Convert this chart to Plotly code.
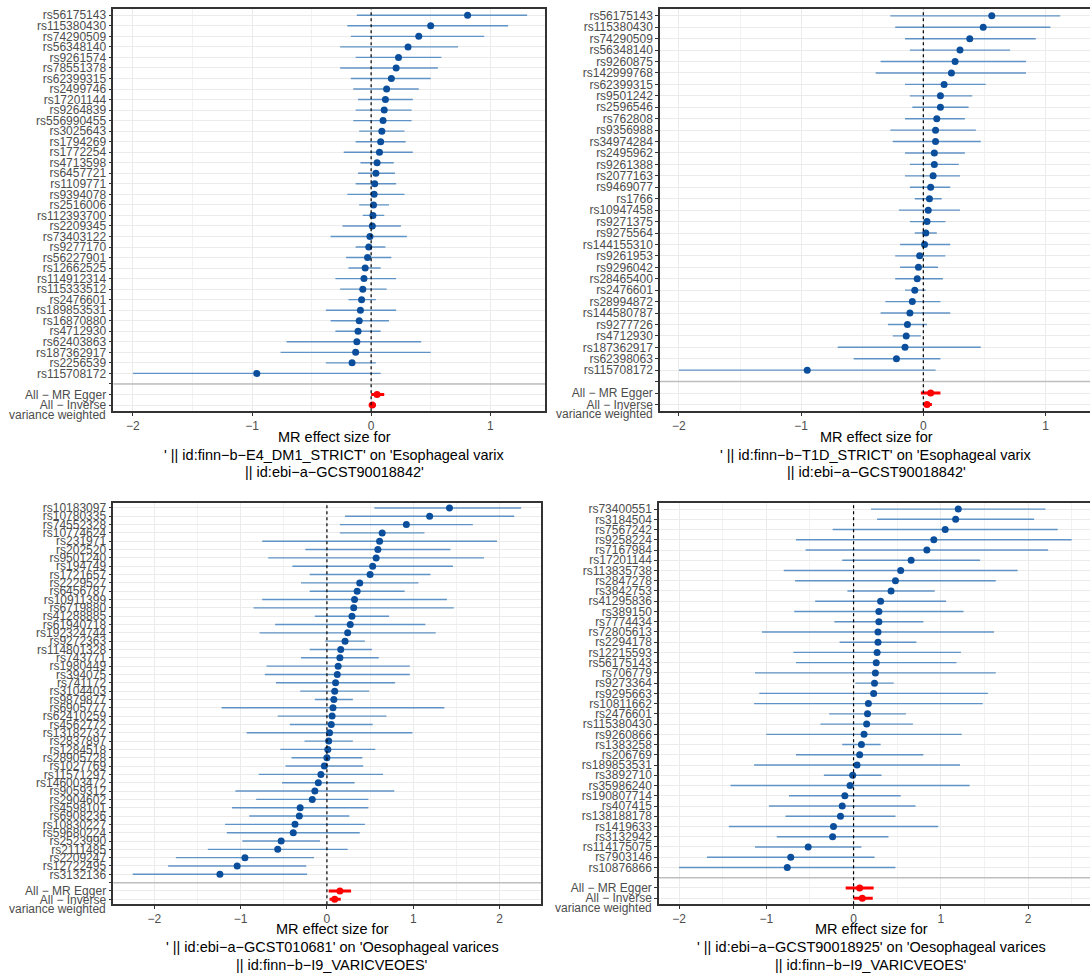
import plotly.graph_objects as go

# ---------------- data ----------------
p1_snps = ["rs56175143","rs115380430","rs74290509","rs56348140","rs9261574","rs78551378","rs62399315",
           "rs2499746","rs17201144","rs9264839","rs556990455","rs3025643","rs1794269","rs1772254",
           "rs4713598","rs6457721","rs1109771","rs9394078","rs2516006","rs112393700","rs2209345",
           "rs73403122","rs9277170","rs56227901","rs12662525","rs114912314","rs115333512","rs2476601",
           "rs189853531","rs16870880","rs4712930","rs62403863","rs187362917","rs2256539","rs115708172"]
p1_b  = [0.81,0.50,0.40,0.31,0.23,0.21,0.17,0.13,0.12,0.11,0.10,0.09,0.08,0.07,0.05,0.04,0.03,0.025,0.02,
         0.015,0.01,-0.01,-0.02,-0.03,-0.05,-0.06,-0.07,-0.08,-0.09,-0.10,-0.11,-0.12,-0.13,-0.16,-0.96]
p1_lo = [-0.12,-0.20,-0.17,-0.26,-0.13,-0.26,-0.17,-0.15,-0.11,-0.13,-0.15,-0.10,-0.13,-0.23,-0.09,-0.11,
         -0.13,-0.20,-0.10,-0.07,-0.24,-0.34,-0.13,-0.21,-0.19,-0.30,-0.26,-0.19,-0.38,-0.34,-0.30,-0.71,
         -0.76,-0.38,-2.00]
p1_hi = [1.31,1.15,0.95,0.73,0.59,0.56,0.50,0.40,0.35,0.34,0.34,0.28,0.29,0.35,0.19,0.20,0.21,0.28,0.15,
         0.11,0.25,0.30,0.12,0.17,0.08,0.21,0.13,0.04,0.21,0.15,0.08,0.42,0.50,0.04,0.08]
p1_all_b  = [0.05, 0.01]
p1_all_lo = [0.00, -0.02]
p1_all_hi = [0.11, 0.04]

p2_snps = ["rs56175143","rs115380430","rs74290509","rs56348140","rs9260875","rs142999768","rs62399315",
           "rs9501242","rs2596546","rs762808","rs9356988","rs34974284","rs2495962","rs9261388","rs2077163",
           "rs9469077","rs1766","rs10947458","rs9271375","rs9275564","rs144155310","rs9261953","rs9296042",
           "rs28465400","rs2476601","rs28994872","rs144580787","rs9277726","rs4712930","rs187362917",
           "rs62398063","rs115708172"]
p2_b  = [0.56,0.49,0.38,0.30,0.26,0.23,0.17,0.14,0.14,0.11,0.10,0.10,0.09,0.09,0.08,0.06,0.05,0.04,0.03,
         0.02,0.01,-0.03,-0.04,-0.05,-0.07,-0.09,-0.11,-0.13,-0.14,-0.15,-0.22,-0.95]
p2_lo = [-0.27,-0.23,-0.15,-0.11,-0.35,-0.39,-0.15,-0.11,-0.09,-0.15,-0.27,-0.25,-0.15,-0.11,-0.15,-0.11,
         -0.07,-0.20,-0.11,-0.07,-0.19,-0.23,-0.19,-0.23,-0.15,-0.31,-0.35,-0.29,-0.25,-0.70,-0.57,-2.00]
p2_hi = [1.12,1.04,0.92,0.71,0.84,0.84,0.51,0.40,0.37,0.34,0.43,0.47,0.34,0.29,0.30,0.22,0.15,0.30,0.18,
         0.11,0.22,0.18,0.12,0.16,0.02,0.14,0.22,0.03,-0.02,0.47,0.14,0.10]
p2_all_b  = [0.06, 0.03]
p2_all_lo = [-0.02, 0.00]
p2_all_hi = [0.14, 0.07]

p3_snps = ["rs10183097","rs10780335","rs74552328","rs10774624","rs231971","rs202520","rs9501240","rs194749",
           "rs1721657","rs2229527","rs6456787","rs10911399","rs6719880","rs41288885","rs61940718",
           "rs192324744","rs9272363","rs114801328","rs743771","rs1980449","rs394075","rs741172","rs3104403",
           "rs9879877","rs6905777","rs62410259","rs4562772","rs13182737","rs2837897","rs1284518",
           "rs28905728","rs1027769","rs11571297","rs146003472","rs9059312","rs2904602","rs4598101",
           "rs6908236","rs10830227","rs59680224","rs2523990","rs2111485","rs2209247","rs12722495","rs3132136"]
p3_b  = [1.42,1.19,0.92,0.64,0.61,0.59,0.57,0.53,0.50,0.38,0.35,0.32,0.31,0.29,0.27,0.24,0.21,0.16,0.15,
         0.13,0.12,0.10,0.09,0.08,0.07,0.06,0.05,0.03,0.02,0.01,0.00,-0.03,-0.07,-0.10,-0.14,-0.17,-0.31,
         -0.32,-0.37,-0.39,-0.53,-0.57,-0.95,-1.04,-1.24]
p3_lo = [0.55,0.21,0.15,0.15,-0.75,-0.25,-0.68,-0.40,-0.20,-0.30,-0.20,-0.75,-0.85,-0.14,-0.60,-0.78,-0.02,
         -0.20,-0.30,-0.70,-0.72,-0.59,-0.31,-0.14,-1.22,-0.57,-0.43,-0.93,-0.26,-0.54,-0.41,-0.48,-0.79,
         -0.52,-1.06,-0.82,-1.10,-0.90,-1.18,-1.16,-0.98,-1.38,-1.75,-1.84,-2.25]
p3_hi = [2.25,2.17,1.69,1.13,1.97,1.43,1.82,1.46,1.20,1.06,0.90,1.39,1.47,0.72,1.14,1.26,0.44,0.52,0.60,
         0.96,0.96,0.79,0.49,0.30,1.36,0.69,0.53,0.99,0.30,0.56,0.41,0.42,0.65,0.32,0.78,0.48,0.48,0.26,
         0.44,0.38,-0.08,0.24,-0.15,-0.24,-0.23]
p3_all_b  = [0.15, 0.09]
p3_all_lo = [0.02, 0.03]
p3_all_hi = [0.28, 0.16]

p4_snps = ["rs73400551","rs3184504","rs7567242","rs9258224","rs7167984","rs17201144","rs113835738",
           "rs2847278","rs3842753","rs41295836","rs389150","rs7774434","rs72805613","rs2294178","rs12215593",
           "rs56175143","rs706779","rs9273364","rs9295663","rs10811662","rs2476601","rs115380430",
           "rs9260866","rs1383258","rs206769","rs189853531","rs3892710","rs35986240","rs190807714",
           "rs407415","rs138188178","rs1419633","rs3132942","rs114175075","rs7903146","rs10876866"]
p4_b  = [1.20,1.17,1.05,0.92,0.84,0.66,0.54,0.48,0.43,0.31,0.29,0.29,0.28,0.28,0.27,0.26,0.25,0.24,0.23,
         0.17,0.16,0.15,0.12,0.09,0.07,0.04,-0.01,-0.04,-0.10,-0.13,-0.15,-0.23,-0.24,-0.52,-0.72,-0.76]
p4_lo = [0.20,0.27,-0.24,-0.66,-0.55,-0.13,-0.80,-0.67,-0.07,-0.44,-0.68,-0.22,-1.05,-0.16,-0.69,-0.66,
         -1.13,0.02,-1.08,-1.14,-0.28,-0.38,-1.00,-0.13,-0.66,-1.14,-0.34,-1.41,-0.74,-0.97,-0.78,-1.43,
         -0.88,-1.13,-1.68,-2.00]
p4_hi = [2.20,2.07,2.34,2.50,2.23,1.45,1.88,1.63,0.93,1.06,1.26,0.80,1.61,0.72,1.23,1.18,1.63,0.46,1.54,
         1.48,0.60,0.68,1.24,0.31,0.80,1.22,0.32,1.33,0.54,0.71,0.48,0.97,0.40,0.09,0.24,0.48]
p4_all_b  = [0.07, 0.10]
p4_all_lo = [-0.09, 0.00]
p4_all_hi = [0.23, 0.22]

all_labels = ["All − MR Egger", "All − Inverse"]
ivw_second_line = "variance weighted"

titles = [
    ["MR effect size for", "' || id:finn−b−E4_DM1_STRICT' on 'Esophageal varix", "|| id:ebi−a−GCST90018842'"],
    ["MR effect size for", "' || id:finn−b−T1D_STRICT' on 'Esophageal varix", "|| id:ebi−a−GCST90018842'"],
    ["MR effect size for", "' || id:ebi−a−GCST010681' on 'Oesophageal varices", "|| id:finn−b−I9_VARICVEOES'"],
    ["MR effect size for", "' || id:ebi−a−GCST90018925' on 'Oesophageal varices", "|| id:finn−b−I9_VARICVEOES'"],
]

# ---------------- layout geometry (pixels) ----------------
W, H = 1090, 979
panels = [
    dict(snps=p1_snps, b=p1_b, lo=p1_lo, hi=p1_hi, ab=p1_all_b, alo=p1_all_lo, ahi=p1_all_hi,
         px=(113.3, 545), py=(7, 411), xr=(-2.165, 1.46), right=True, ttl=(437, 454.5, 472), tcx=334),
    dict(snps=p2_snps, b=p2_b, lo=p2_lo, hi=p2_hi, ab=p2_all_b, alo=p2_all_lo, ahi=p2_all_hi,
         px=(660, 1090), py=(7, 411), xr=(-2.155, 1.364), right=False, ttl=(437, 454.5, 472), tcx=876),
    dict(snps=p3_snps, b=p3_b, lo=p3_lo, hi=p3_hi, ab=p3_all_b, alo=p3_all_lo, ahi=p3_all_hi,
         px=(113.3, 541), py=(503, 906), xr=(-2.475, 2.48), right=True, ttl=(931, 949, 967), tcx=332),
    dict(snps=p4_snps, b=p4_b, lo=p4_lo, hi=p4_hi, ab=p4_all_b, alo=p4_all_lo, ahi=p4_all_hi,
         px=(659, 1090), py=(503, 906), xr=(-2.23, 2.71), right=False, ttl=(931, 949, 967), tcx=871),
]

LINE_BLUE = "rgba(70,130,190,0.85)"
DOT_BLUE = "#0b4f9c"
GRID = "#ebebeb"
BORDER = "#333333"
FONT = "Liberation Sans, Arial, sans-serif"

fig = go.Figure()
layout = dict(width=W, height=H, margin=dict(l=0, r=0, t=0, b=0),
              paper_bgcolor="white", plot_bgcolor="white", showlegend=False,
              font=dict(family=FONT))
shapes, annotations = [], []

for i, p in enumerate(panels, start=1):
    xa = "x" if i == 1 else f"x{i}"
    ya = "y" if i == 1 else f"y{i}"
    n = len(p["snps"])
    ys = list(range(1, n + 1))
    blank = n + 1
    ya_all = [n + 2, n + 3]

    fig.add_trace(go.Scatter(
        x=p["b"], y=ys, mode="markers", xaxis=xa, yaxis=ya,
        marker=dict(color=DOT_BLUE, size=7),
        error_x=dict(type="data", symmetric=False,
                     array=[h - b for h, b in zip(p["hi"], p["b"])],
                     arrayminus=[b - l for b, l in zip(p["b"], p["lo"])],
                     color=LINE_BLUE, thickness=1.4, width=0),
        hoverinfo="skip"))
    fig.add_trace(go.Scatter(
        x=p["ab"], y=ya_all, mode="markers", xaxis=xa, yaxis=ya,
        marker=dict(color="red", size=7),
        error_x=dict(type="data", symmetric=False,
                     array=[h - b for h, b in zip(p["ahi"], p["ab"])],
                     arrayminus=[b - l for b, l in zip(p["ab"], p["alo"])],
                     color="red", thickness=3, width=0),
        hoverinfo="skip"))

    x0, x1 = p["px"][0] / W, p["px"][1] / W
    y0, y1 = 1 - p["py"][1] / H, 1 - p["py"][0] / H
    key_x = "xaxis" if i == 1 else f"xaxis{i}"
    key_y = "yaxis" if i == 1 else f"yaxis{i}"
    layout[key_x] = dict(domain=[x0, x1], anchor=ya, range=list(p["xr"]),
                         tickmode="linear", tick0=0, dtick=1,
                         showgrid=True, gridcolor=GRID, gridwidth=1.2,
                         minor=dict(tick0=0.5, dtick=1, showgrid=True, gridcolor="#f2f2f2", gridwidth=0.6, ticks=""),
                         zeroline=False, showline=True, linecolor=BORDER, linewidth=1.5, mirror=True,
                         ticks="outside", ticklen=3, tickcolor=BORDER, tickwidth=1,
                         tickfont=dict(size=12, color="#4d4d4d", family=FONT))
    layout[key_y] = dict(domain=[y0, y1], anchor=xa,
                         range=[n + 3 + 0.6, 1 - 0.6],
                         tickmode="array", tickvals=ys + [blank] + ya_all,
                         ticktext=p["snps"] + [""] + all_labels,
                         showgrid=True, gridcolor=GRID, gridwidth=1.2,
                         zeroline=False, showline=True, linecolor=BORDER, linewidth=1.5,
                         mirror=p["right"],
                         ticks="outside", ticklen=3, tickcolor=BORDER, tickwidth=1,
                         tickfont=dict(size=12, color="#4d4d4d", family=FONT))

    # second line of the IVW label, placed just below its tick
    annotations.append(dict(text=ivw_second_line, xref=f"{xa} domain", yref=ya, x=0, y=n + 3,
                            xanchor="right", yanchor="middle", xshift=-5, yshift=-10,
                            showarrow=False, font=dict(size=12, color="#4d4d4d", family=FONT)))

    # separator line at blank level
    shapes.append(dict(type="line", xref=f"{xa} domain", yref=ya, x0=0, x1=1, y0=blank, y1=blank,
                       line=dict(color="#bebebe", width=1.5), layer="above"))
    # dotted zero line
    shapes.append(dict(type="line", xref=xa, yref=f"{ya} domain", x0=0, x1=0, y0=0, y1=1,
                       line=dict(color="black", width=1.2, dash="dot"), layer="above"))

    for k, txt in enumerate(titles[i - 1]):
        annotations.append(dict(text=txt, xref="paper", yref="paper", x=p["tcx"] / W,
                                y=1 - p["ttl"][k] / H, xanchor="center", yanchor="middle",
                                showarrow=False, font=dict(size=14.5, color="black", family=FONT)))

layout["shapes"] = shapes
layout["annotations"] = annotations
fig.update_layout(**layout)
fig.write_html("out.html")
